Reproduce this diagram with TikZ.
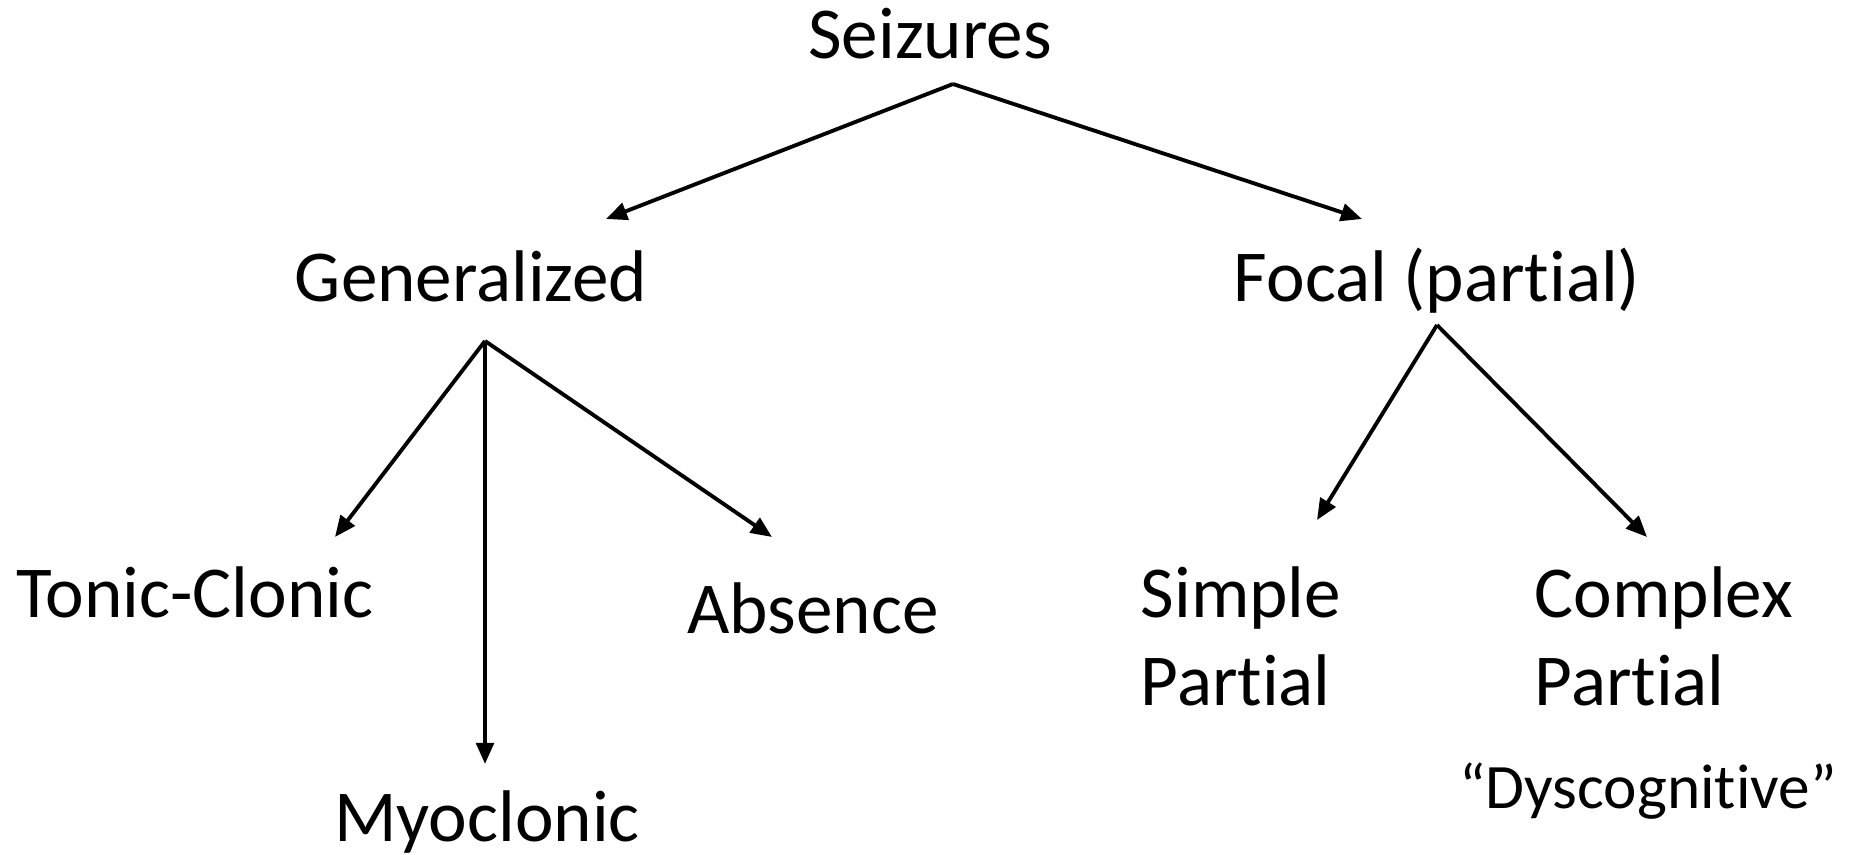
\documentclass[tikz,border=0pt]{standalone}
\usepackage{fontspec}
\setmainfont{Carlito}[Ligatures={NoCommon}]
\usetikzlibrary{arrows.meta}

\begin{document}
\begin{tikzpicture}[x=0.01cm,y=-0.01cm,>={Triangle[length=6pt,width=5pt]},
  big/.style={anchor=base,inner sep=0pt,font=\fontsize{20.8}{25}\selectfont},
  small/.style={anchor=base,inner sep=0pt,font=\fontsize{18}{22}\selectfont},
  link/.style={->,line width=1.1pt}]
\useasboundingbox (0,0) rectangle (1849,855);
% labels
\node[big] (seiz) at (930,59) {Seizures};
\node[big] (gen) at (471,302) {Generalized};
\node[big] (focal) at (1437,302) {Focal (partial)};
\node[big] (tonic) at (195,617) {Tonic-Clonic};
\node[big] (absence) at (813,633) {Absence};
\node[big] (myo) at (487,841) {Myoclonic};
\node[big,anchor=base west] (simple) at (1140,617) {Simple};
\node[big,anchor=base west] (simplep) at (1140,705) {Partial};
\node[big,anchor=base west] (complex) at (1534,617) {Complex};
\node[big,anchor=base west] (complexp) at (1534,705) {Partial};
\node[small] (dysc) at (1648,808) {“Dyscognitive”};
% branch points and arrow ends
\coordinate (seiz-b) at (953,84);
\coordinate (gen-t) at (606,219);
\coordinate (focal-t) at (1362,219);
\coordinate (gen-b) at (485,341);
\coordinate (tonic-t) at (335,537);
\coordinate (myo-t) at (485,764);
\coordinate (absence-t) at (772,537);
\coordinate (focal-b) at (1437,325);
\coordinate (simple-t) at (1317,520);
\coordinate (complex-t) at (1647,537);
\draw[link] (seiz-b) -- (gen-t);
\draw[link] (seiz-b) -- (focal-t);
\draw[link] (gen-b) -- (tonic-t);
\draw[link] (gen-b) -- (myo-t);
\draw[link] (gen-b) -- (absence-t);
\draw[link] (focal-b) -- (simple-t);
\draw[link] (focal-b) -- (complex-t);
\end{tikzpicture}
\end{document}
